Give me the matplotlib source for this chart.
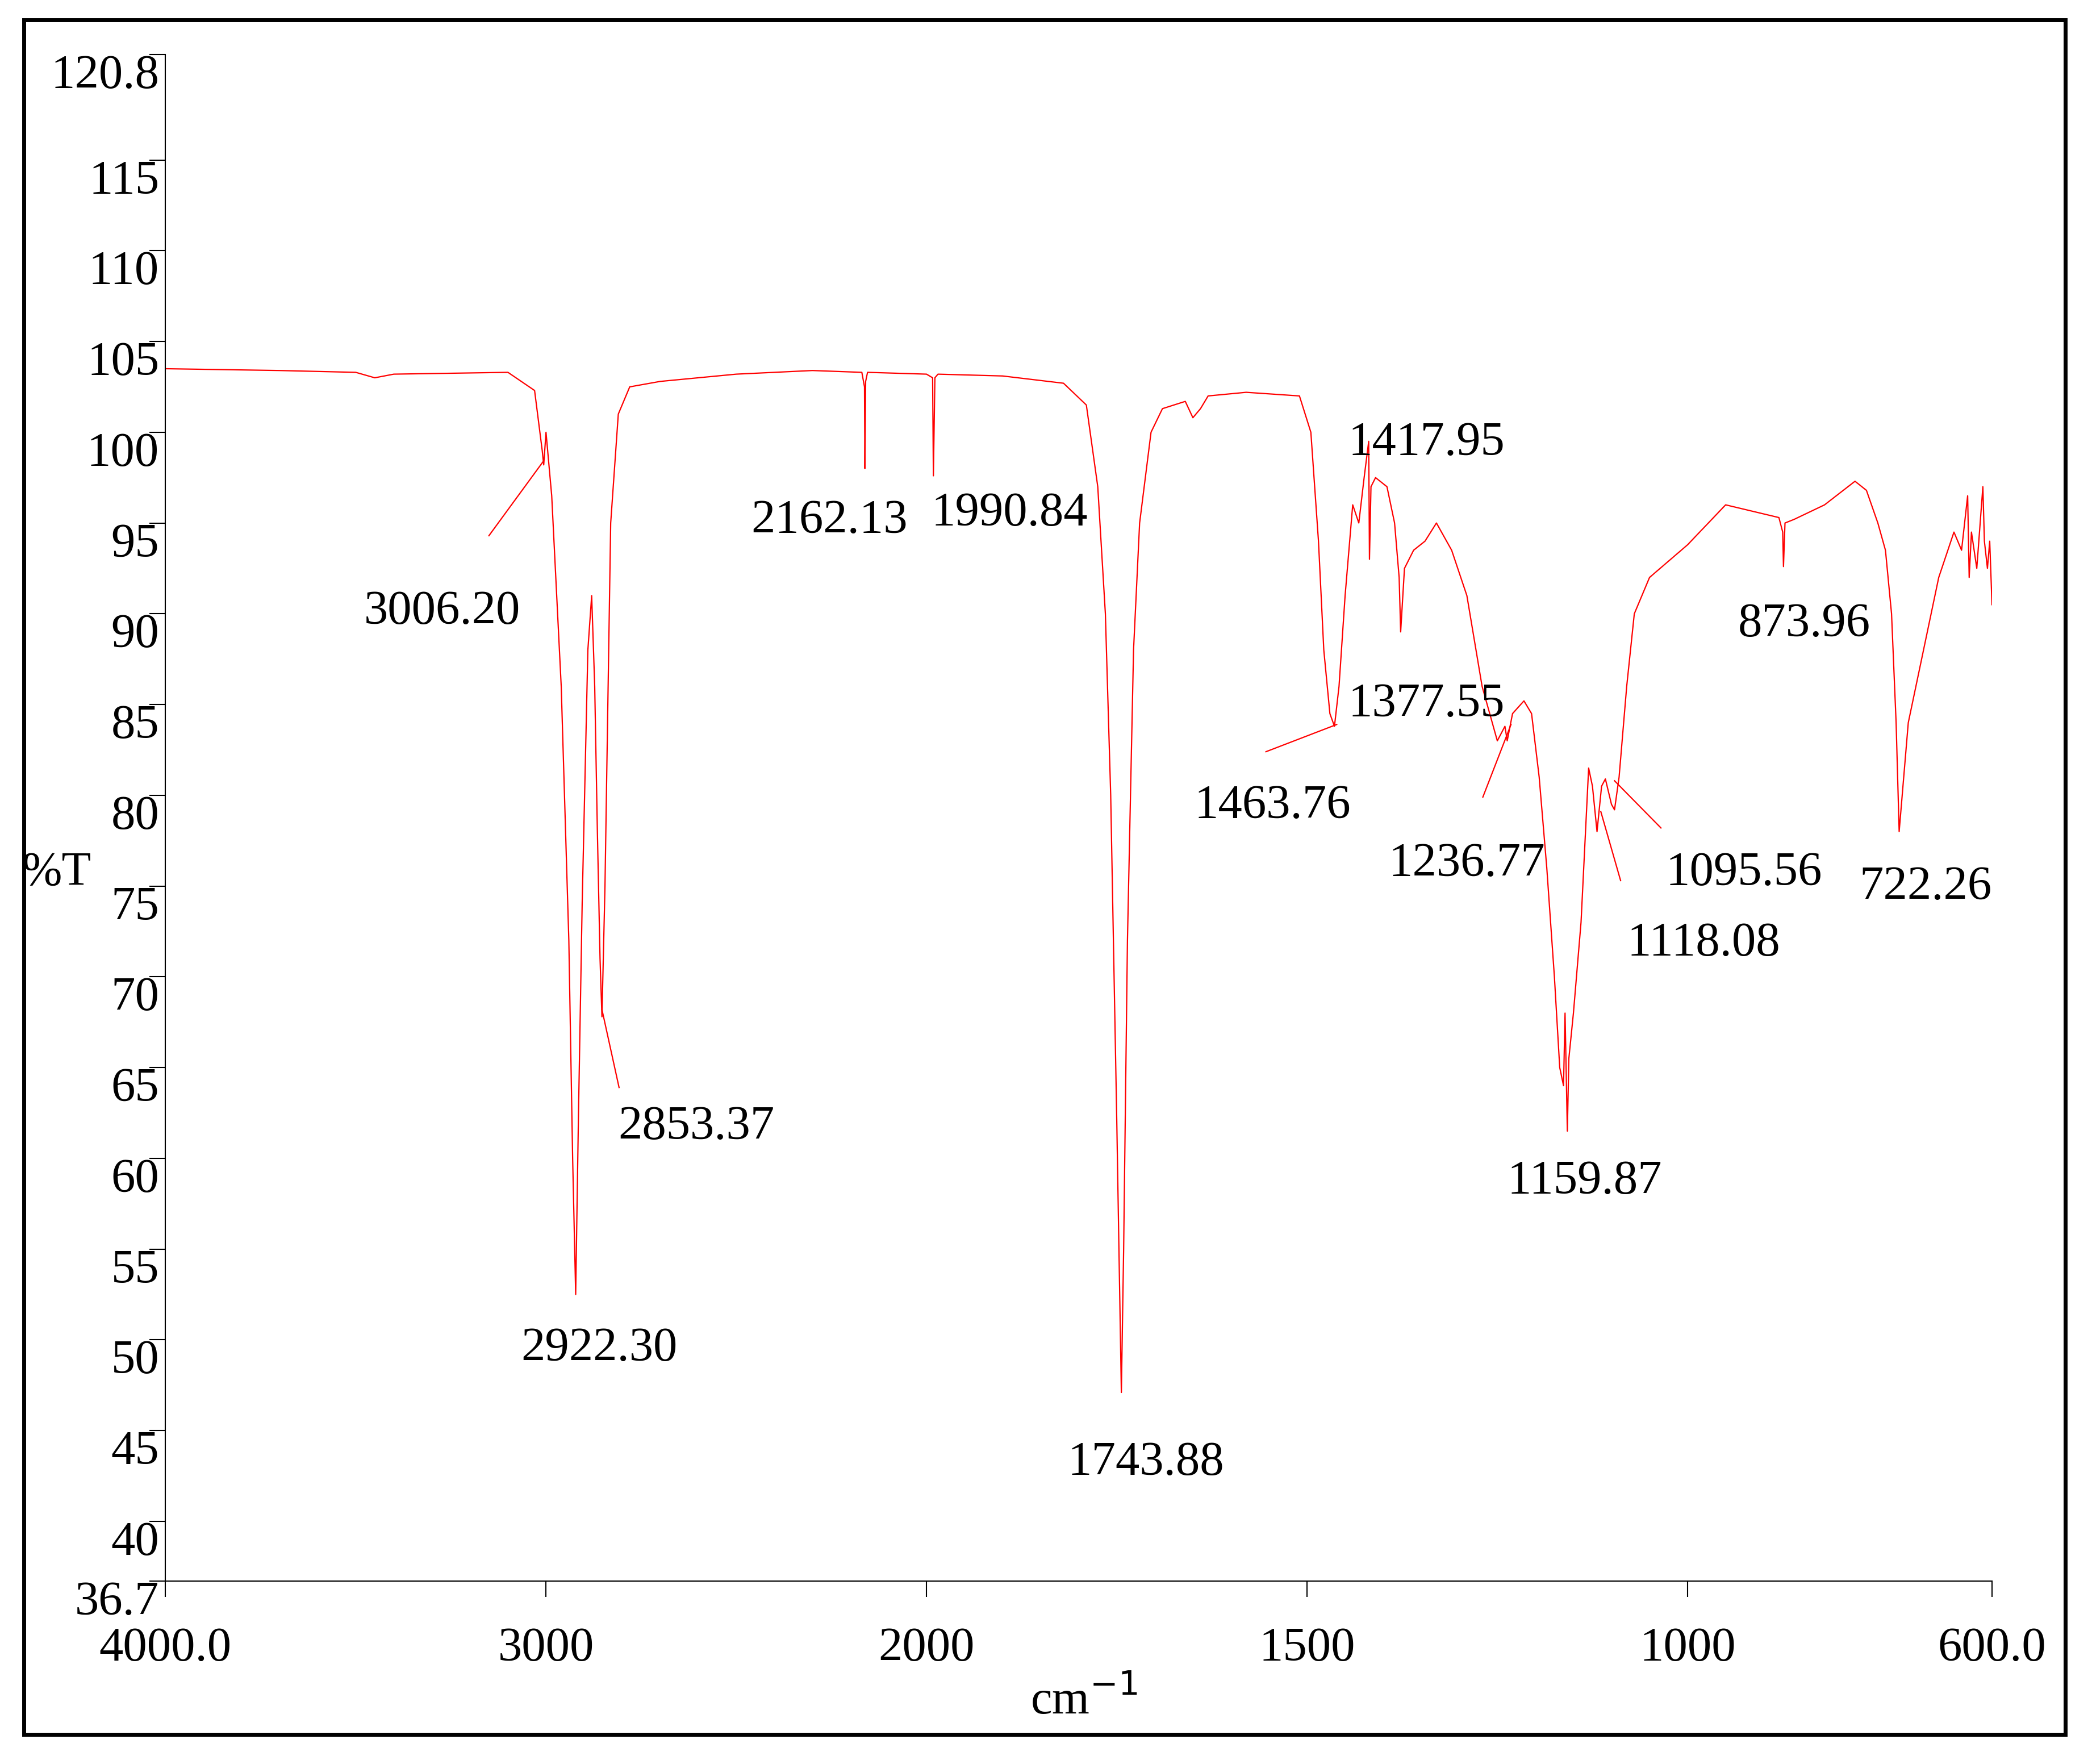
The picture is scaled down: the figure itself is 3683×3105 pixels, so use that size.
import numpy as np
import matplotlib
matplotlib.use("Agg")
import matplotlib.pyplot as plt
from matplotlib.patches import Rectangle

plt.rcParams['font.family'] = ['Liberation Serif', 'DejaVu Serif']

# spectrum (wavenumber, %T)
wavenumber = [4000, 3700, 3500, 3450, 3400, 3100, 3030, 3010, 3006, 3000, 2985, 2960,
              2940, 2930, 2922, 2915, 2905, 2890, 2880, 2872, 2865, 2858, 2853, 2845,
              2830, 2810, 2780, 2700, 2500, 2300, 2170, 2163, 2162, 2160, 2155, 2000,
              1992, 1991, 1989, 1985, 1900, 1820, 1790, 1775, 1765, 1758, 1750, 1746,
              1744, 1741, 1736, 1728, 1720, 1705, 1690, 1660, 1650, 1640, 1630, 1580,
              1510, 1495, 1485, 1478, 1470, 1464, 1458, 1450, 1440, 1432, 1425, 1419,
              1418, 1416, 1410, 1395, 1385, 1379, 1377, 1372, 1360, 1345, 1330, 1310,
              1290, 1270, 1250, 1240, 1237, 1230, 1215, 1205, 1195, 1185, 1175, 1168,
              1163, 1161, 1158, 1156, 1150, 1140, 1130, 1125, 1119, 1113, 1108, 1100, 1096,
              1090, 1080, 1070, 1050, 1000, 950, 900, 880, 875, 874, 872, 860, 820, 780,
              765, 750, 740, 732, 726, 722, 718, 710, 690, 670, 650, 640, 632, 630,
              627, 620, 612, 610, 606, 603, 600]
transmit = [103.5, 103.4, 103.3, 103.0, 103.2, 103.3, 102.3, 99.0, 98.2, 100.0, 96.5, 86.0,
            72.0, 60.0, 52.5, 62.0, 74.0, 88.0, 91.0, 86.0, 78.0, 71.0, 67.8, 75.0,
            95.0, 101.0, 102.5, 102.8, 103.2, 103.4, 103.3, 102.5, 98.0, 102.8, 103.3, 103.2,
            103.0, 97.6, 103.0, 103.2, 103.1, 102.7, 101.5, 97.0, 90.0, 80.0, 62.0, 52.0,
            47.1, 55.0, 72.0, 88.0, 95.0, 100.0, 101.3, 101.7, 100.8, 101.3, 102.0, 102.2,
            102.0, 100.0, 94.0, 88.0, 84.5, 83.8, 86.0, 91.0, 96.0, 95.0, 97.5, 99.5,
            93.0, 97.0, 97.5, 97.0, 95.0, 92.0, 89.0, 92.5, 93.5, 94.0, 95.0, 93.5,
            91.0, 86.0, 83.0, 83.8, 83.0, 84.5, 85.2, 84.5, 81.0, 76.0, 70.0, 65.0,
            64.0, 68.0, 61.5, 65.5, 68.0, 73.0, 81.5, 80.5, 78.0, 80.5, 80.9, 79.5, 79.2,
            81.0, 86.0, 90.0, 92.0, 93.8, 96.0, 95.5, 95.3, 94.5, 92.6, 95.0, 95.2, 96.0, 97.3,
            96.8, 95.0, 93.5, 90.0, 84.0, 78.0, 80.0, 84.0, 88.0, 92.0, 94.5, 93.5, 96.5, 92.0,
            94.5, 92.5, 97.0, 94.0, 92.5, 94.0, 90.5]

peak_labels = ["3006.20", "2162.13", "1990.84", "2922.30", "2853.37", "1743.88", "1463.76",
               "1417.95", "1377.55", "1236.77", "1159.87", "1118.08", "1095.56", "873.96", "722.26"]
label_x = [3273, 2255, 1891, 2860, 2605, 1712, 1545, 1343, 1343, 1290, 1135, 979, 926, 847, 687]
label_y = [90.1, 95.1, 95.5, 49.5, 61.7, 43.2, 79.4, 99.4, 85.0, 76.2, 58.7, 71.8, 75.7, 89.4, 74.9]
# leader lines: (start x, start y, end x, end y)
leaders = [(3150, 94.3, 3007, 98.4), (2808, 63.9, 2853, 68.2), (1554, 82.4, 1461, 83.9),
           (1269, 79.9, 1232, 83.9), (1088, 75.3, 1114, 79.1), (1035, 78.2, 1096, 80.8)]

ytick_vals = [36.7, 40, 45, 50, 55, 60, 65, 70, 75, 80, 85, 90, 95, 100, 105, 110, 115, 120.8]
ytick_text = ["36.7", "40", "45", "50", "55", "60", "65", "70", "75", "80", "85", "90",
              "95", "100", "105", "110", "115", "120.8"]
xtick_vals = [4000, 3000, 2000, 1500, 1000, 600]
xtick_text = ["4000.0", "3000", "2000", "1500", "1000", "600.0"]


def fwd(w):
    w = np.asarray(w, dtype=float)
    return np.where(w <= 2000, w, 2000 + (w - 2000) / 2)


def inv(v):
    v = np.asarray(v, dtype=float)
    return np.where(v <= 2000, v, 2000 + (v - 2000) * 2)


fig = plt.figure(figsize=(36.83, 31.05), dpi=100)
ax = fig.add_axes([0.0791, 0.1036, 0.8731, 0.8654])
ax.set_xscale('function', functions=(fwd, inv))
ax.plot(wavenumber, transmit, color='red', lw=1.6)
ax.set_xlim(4000, 600)
ax.set_ylim(36.7, 120.8)

for s in ['top', 'right']:
    ax.spines[s].set_visible(False)
for s in ['left', 'bottom']:
    ax.spines[s].set_linewidth(1.5)

FS = 61
ax.set_yticks(ytick_vals)
ax.set_yticklabels(ytick_text, fontsize=FS)
for lab in ax.get_yticklabels():
    lab.set_va('top')
ax.set_xticks(xtick_vals)
ax.set_xticklabels(xtick_text, fontsize=FS)
ax.minorticks_off()
ax.tick_params(axis='y', length=20, width=1.5, pad=-12)
ax.tick_params(axis='x', length=20, width=1.5, pad=38)

for txt, x, y in zip(peak_labels, label_x, label_y):
    ax.text(x, y, txt, fontsize=FS, ha='center', va='center')
for x0, y0, x1, y1 in leaders:
    ax.plot([x0, x1], [y0, y1], color='red', lw=1.6)

fig.text(0.027, 0.505, "%T", fontsize=FS, ha='center', va='center')
fig.text(0.518, 0.036, "cm$^{-1}$", fontsize=FS, ha='center', va='center')

fig.add_artist(Rectangle((18 / 1568, 1 - 1300 / 1322), 1530 / 1568, 1285 / 1322,
                         transform=fig.transFigure, fill=False, lw=5, ec='black'))

fig.savefig("out.png", dpi=100)
